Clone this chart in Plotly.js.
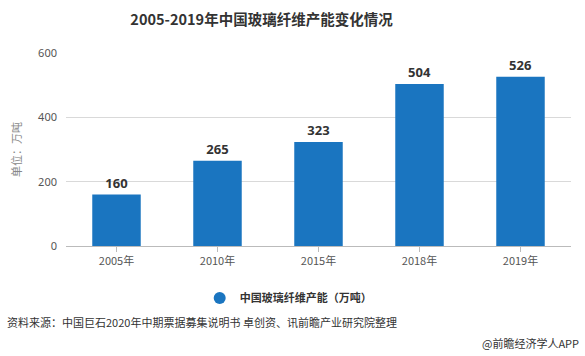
<!DOCTYPE html>
<html><head><meta charset="utf-8">
<script src="https://cdn.plot.ly/plotly-3.0.1.min.js"></script>
<style>html,body{margin:0;padding:0;background:#fff;}#c{width:585px;height:356px;}</style>
</head><body><div id="c"></div>
<script>
const categories = ["2005年","2010年","2015年","2018年","2019年"];
const capacity = [160, 265, 323, 504, 526];
const seriesName = "中国玻璃纤维产能（万吨）";
const yTicks = [0, 200, 400, 600];

const fontCJK = "'Microsoft YaHei','Noto Sans CJK SC',sans-serif";
const barColor = "#1a75c0";
const trace = {
  type: "bar", x: categories, y: capacity, name: seriesName, showlegend: false,
  marker: {color: barColor}, width: 0.48,
  text: capacity.map(String), textposition: "outside", cliponaxis: false,
  textfont: {family: "'Open Sans','Noto Sans',sans-serif", size: 13, color: "#333", weight: 700}
};
const legendTrace = {
  type: "scatter", mode: "markers", x: [null], y: [null], name: seriesName,
  marker: {color: barColor, size: 12, symbol: "circle"}, showlegend: true
};
const layout = {
  width: 585, height: 356,
  margin: {l: 66, r: 14, t: 53, b: 110},
  paper_bgcolor: "#fff", plot_bgcolor: "#fff",
  title: {text: "<b>2005-2019年中国玻璃纤维产能变化情况</b>", xref: "container", x: 0.447, xanchor: "center", y: 0.945, yanchor: "middle",
    font: {family: fontCJK, size: 14.5, color: "#333"}},
  showlegend: true,
  legend: {orientation: "h", x: 0.44, xanchor: "center", y: -0.27, yanchor: "middle",
    font: {family: fontCJK, size: 11, color: "#333", weight: 700}, itemwidth: 30},
  xaxis: {type: "category", showline: true, linecolor: "#bbb", ticks: "outside", tickcolor: "#bbb", ticklen: 5,
    tickfont: {family: "'Noto Sans CJK SC',sans-serif", size: 11, color: "#555"}, range: [-0.5, 4.5]},
  yaxis: {range: [0, 600], tickvals: yTicks, showgrid: true, gridcolor: "#d9d9d9", zeroline: false,
    tickfont: {family: "'Noto Sans',sans-serif", size: 11, color: "#555"}, ticklabelstandoff: 8,
    title: {text: "单位：万吨", font: {family: fontCJK, size: 11, color: "#888"}, standoff: 14}},
  annotations: [
    {text: "资料来源：中国巨石2020年中期票据募集说明书 卓创资、讯前瞻产业研究院整理", xref: "paper", yref: "paper",
     x: -0.121, xanchor: "left", y: -0.395, yanchor: "middle", showarrow: false,
     font: {family: fontCJK, size: 11, color: "#333"}},
    {text: "@前瞻经济学人APP", xref: "paper", yref: "paper", x: 1.02, xanchor: "right", y: -0.5, yanchor: "middle",
     showarrow: false, font: {family: fontCJK, size: 11, color: "#333"}}
  ]
};
Plotly.newPlot("c", [trace, legendTrace], layout, {displayModeBar: false, staticPlot: true});
</script></body></html>
